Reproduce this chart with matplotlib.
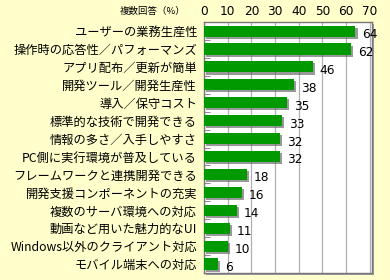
import matplotlib.pyplot as plt
import matplotlib.patheffects as pe
from matplotlib.patches import Rectangle
import numpy as np

plt.rcParams['font.family'] = ['Noto Sans CJK JP', 'DejaVu Sans']

labels = ['ユーザーの業務生産性', '操作時の応答性／パフォーマンズ', 'アプリ配布／更新が簡単',
          '開発ツール／開発生産性', '導入／保守コスト', '標準的な技術で開発できる',
          '情報の多さ／入手しやすさ', 'PC側に実行環境が普及している',
          'フレームワークと連携開発できる', '開発支援コンポーネントの充実',
          '複数のサーバ環境への対応', '動画など用いた魅力的なUI',
          'Windows以外のクライアント対応', 'モバイル端末への対応']
values = [64, 62, 46, 38, 35, 33, 32, 32, 18, 16, 14, 11, 10, 6]
xticks = [0, 10, 20, 30, 40, 50, 60, 70]

bg = '#ffffcc'
fig = plt.figure(figsize=(3.9, 2.8), dpi=100, facecolor=bg)
ax = fig.add_axes([0.523, 0.025, 0.431, 0.896])

# frame shadow
pos = ax.get_position()
fig.patches.append(Rectangle((pos.x0 + 2 / 390, pos.y0 - 2 / 280), pos.width, pos.height,
                             transform=fig.transFigure, facecolor='#999999',
                             edgecolor='none', zorder=-1))

y = np.arange(len(values))
bars = ax.barh(y, values, height=0.62, color='#009900', zorder=3)
for b in bars:
    b.set_path_effects([pe.SimplePatchShadow(offset=(1.5, -1.5), shadow_rgbFace='#555555', alpha=0.6),
                        pe.Normal()])

for yi, v in zip(y, values):
    ax.annotate(str(v), (v, yi), xytext=(5, -2.5), textcoords='offset points',
                va='center', ha='left', fontsize=8.7, family='DejaVu Sans', zorder=4)

ax.set_ylim(len(values) - 0.5, -0.5)
ax.set_xlim(0, 71)
ax.set_yticks(y)
ax.set_yticklabels(labels, fontsize=8.8)
ax.set_yticks(np.arange(len(values) + 1) - 0.5, minor=True)
ax.tick_params(axis='y', which='major', length=0, pad=5)
ax.tick_params(axis='y', which='minor', length=4, direction='in', color='#777777')

ax.xaxis.tick_top()
ax.set_xticks(xticks)
ax.set_xticklabels([str(t) for t in xticks], fontsize=8.7, family='DejaVu Sans')
ax.tick_params(axis='x', length=0, pad=3)
ax.grid(True, axis='x', color='#b0b0b0', linewidth=0.9, zorder=0)

for s in ax.spines.values():
    s.set_color('#777777')
    s.set_linewidth(1.0)

fig.text(0.475, 0.958, '複数回答（%）', fontsize=6.8, ha='right', va='center')

plt.savefig('out.png', dpi=100, facecolor=bg)
